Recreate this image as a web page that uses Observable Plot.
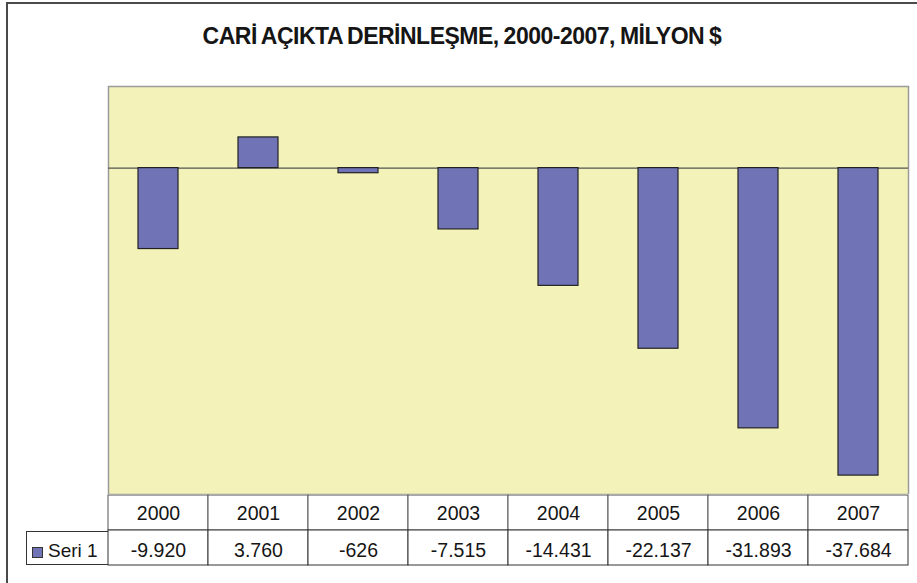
<!DOCTYPE html>
<html>
<head>
<meta charset="utf-8">
<script src="https://cdn.jsdelivr.net/npm/d3@7"></script>
<script src="https://cdn.jsdelivr.net/npm/@observablehq/plot@0.6"></script>
<style>
  html, body { margin: 0; padding: 0; background: #fff; }
  #chart { position: relative; width: 917px; height: 583px; overflow: hidden; background: #fff; font-family: "Liberation Sans", Arial, sans-serif; }
  #outer { position: absolute; left: 6px; top: 2px; width: 1000px; height: 700px; border: 2px solid #4a4a4a; box-sizing: border-box; }
  #title { position: absolute; left: 0; width: 924px; top: 25px; line-height: 22px; text-align: center; font-weight: bold; font-size: 23px; letter-spacing: -0.5px; word-spacing: -1px; color: #151515; }
  #main, #table { position: absolute; left: 0; }
  #main { top: 0; }
  #table { top: 494px; }
  #legend { position: absolute; left: 26px; top: 531px; width: 82px; height: 34px; box-sizing: border-box; border: 1px solid #333; border-right: none; font-size: 19px; line-height: 19px; color: #151515; }
  #legend .sw { position: absolute; left: 5px; top: 15px; width: 9px; height: 9px; background: #7074B6; border: 1px solid #333; }
  #legend .lb { position: absolute; left: 21px; top: 9px; }
</style>
</head>
<body>
<div id="chart">
  <div id="outer"></div>
  <div id="title">CARİ AÇIKTA DERİNLEŞME, 2000-2007, MİLYON $</div>
  <div id="main"></div>
  <div id="table"></div>
  <div id="legend"><div class="sw"></div><div class="lb">Seri 1</div></div>
</div>
<script>
const years = ["2000", "2001", "2002", "2003", "2004", "2005", "2006", "2007"];
const values = [-9920, 3760, -626, -7515, -14431, -22137, -31893, -37684];
const seriesName = "Seri 1";
const rows = ["year", "value"];

const data = years.map((y, i) => ({year: y, value: values[i]}));
const trFormat = d3.formatLocale({decimal: ",", thousands: ".", grouping: [3], currency: ["", " $"], minus: "-"}).format(",d");

const barColor = "#7074B6";
const xOpts = {type: "band", domain: years, padding: 0};

const main = Plot.plot({
  width: 917,
  height: 494,
  marginTop: 86,
  marginBottom: 0,
  marginLeft: 108,
  marginRight: 9,
  x: {...xOpts, axis: null},
  y: {domain: [-40000, 10000], axis: null},
  marks: [
    Plot.frame({fill: "#F3F3B9", stroke: "#9a9a9a", strokeWidth: 1.5}),
    Plot.ruleY([0], {stroke: "#555", strokeWidth: 1.2}),
    Plot.barY(data, {x: "year", y: "value", fill: barColor, stroke: "#222", strokeWidth: 1.2, insetLeft: 30, insetRight: 30})
  ]
});
document.getElementById("main").appendChild(main);

const headCells = years.map(y => ({year: y, row: "year", label: y}));
const valueCells = years.map((y, i) => ({year: y, row: "value", label: trFormat(values[i])}));

const table = Plot.plot({
  width: 917,
  height: 72,
  marginTop: 0,
  marginBottom: 1,
  marginLeft: 108,
  marginRight: 9,
  x: {...xOpts, axis: null},
  y: {type: "band", domain: rows, padding: 0, axis: null},
  style: {fontFamily: "Liberation Sans, Arial, sans-serif"},
  marks: [
    Plot.cell(headCells, {x: "year", y: "row", fill: "#fff", stroke: "#555", strokeWidth: 1}),
    Plot.cell(valueCells, {x: "year", y: "row", fill: "#fff", stroke: "#333", strokeWidth: 1}),
    Plot.ruleY(["year"], {x1: years[0], x2: years[years.length - 1], stroke: "#333"}),
    Plot.text(headCells, {x: "year", y: "row", text: "label", fontSize: 19.5, fill: "#151515", dy: 1}),
    Plot.text(valueCells, {x: "year", y: "row", text: "label", fontSize: 19.5, fill: "#151515", dy: 3})
  ]
});
document.getElementById("table").appendChild(table);
</script>
</body>
</html>
